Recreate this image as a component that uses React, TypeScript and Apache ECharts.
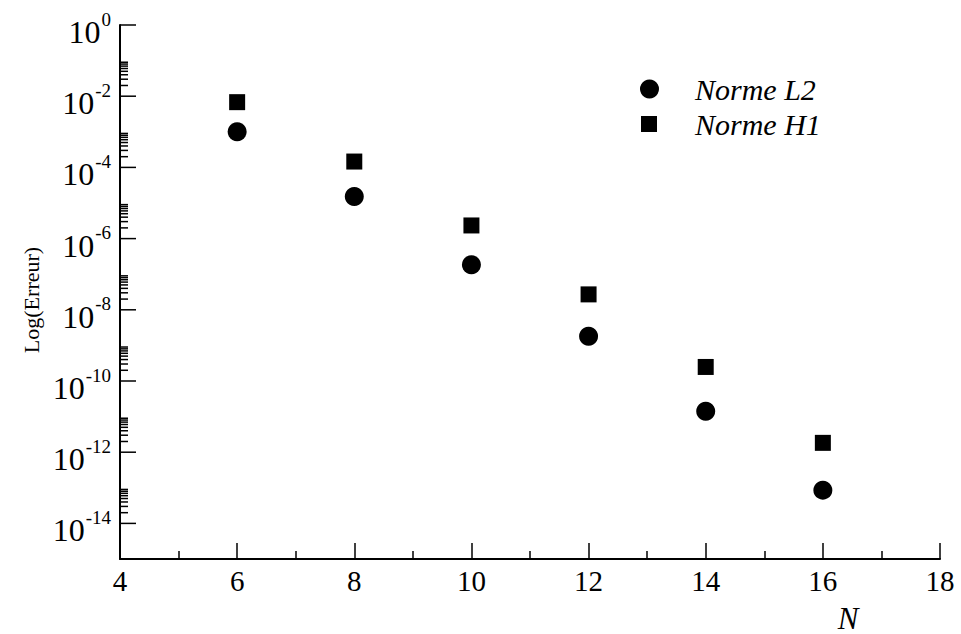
import React, { useEffect, useRef } from "react";
import * as echarts from "echarts";

const nValues = [6, 8, 10, 12, 14, 16];
const normeL2 = [1.0e-3, 1.52e-5, 1.85e-7, 1.8e-9, 1.41e-11, 8.6e-14];
const normeH1 = [6.8e-3, 1.46e-4, 2.34e-6, 2.71e-8, 2.48e-10, 1.83e-12];

const yMajorExponents = [0, -2, -4, -6, -8, -10, -12, -14];
const yMinorMultipliers = [2, 3, 4, 5, 6, 7, 8, 9];
const yMinorDecadeExponents = [-2, -4, -6, -8, -10, -12, -14];

const X_MIN = 4;
const X_MAX = 18;
const Y_MIN = 1e-15;
const Y_MAX = 1;

const FONT = "'Liberation Serif', 'Times New Roman', serif";
const X_LABEL_SIZE = 29;
const BASE_SIZE = 32;
const SUP_SIZE = 19;

let measureCtx: CanvasRenderingContext2D | null = null;
function textWidth(text: string, size: number): number {
  if (!measureCtx) {
    const c = document.createElement("canvas");
    measureCtx = c.getContext("2d");
  }
  if (!measureCtx) return text.length * size * 0.5;
  measureCtx.font = `${size}px ${FONT}`;
  return measureCtx.measureText(text).width;
}

export default function App() {
  const ref = useRef<HTMLDivElement>(null);

  useEffect(() => {
    if (!ref.current) return;
    const chart = echarts.init(ref.current, null, { renderer: "svg" });

    const tickData: number[][] = [];
    yMajorExponents.forEach((e) => tickData.push([X_MIN, Math.pow(10, e), 1]));
    yMinorDecadeExponents.forEach((e) =>
      yMinorMultipliers.forEach((m) => tickData.push([X_MIN, m * Math.pow(10, e), 0]))
    );
    const labelData = yMajorExponents.map((e) => [X_MIN, Math.pow(10, e), e]);

    const legendText = {
      fontFamily: FONT,
      fontStyle: "italic",
      fontSize: 30,
      color: "#000",
      lineHeight: 30,
    };

    const option: any = {
      animation: false,
      backgroundColor: "#fff",
      grid: {
        left: 120,
        right: 21,
        top: 25,
        bottom: 75,
        outerBoundsMode: "none",
        containLabel: false,
      },
      legend: [
        {
          data: [{ name: "Norme L2", icon: "circle" }],
          orient: "vertical",
          left: 640,
          top: 74,
          padding: 0,
          itemWidth: 19,
          itemHeight: 19,
          selectedMode: false,
          textStyle: { ...legendText, padding: [0, 0, 0, 31] },
        },
        {
          data: [{ name: "Norme H1", icon: "rect" }],
          orient: "vertical",
          left: 641,
          top: 109,
          padding: 0,
          itemWidth: 16,
          itemHeight: 16,
          selectedMode: false,
          textStyle: { ...legendText, padding: [0, 0, 0, 33] },
        },
      ],
      xAxis: {
        type: "value",
        min: X_MIN,
        max: X_MAX,
        interval: 2,
        axisLine: { show: true, onZero: false, lineStyle: { color: "#000", width: 2 } },
        axisTick: { show: true, inside: true, length: 16, lineStyle: { color: "#000", width: 1.5 } },
        minorTick: { show: true, splitNumber: 2, length: 8, lineStyle: { color: "#000", width: 1.5 } },
        splitLine: { show: false },
        minorSplitLine: { show: false },
        axisLabel: { fontFamily: FONT, fontSize: X_LABEL_SIZE, color: "#000", margin: 7 },
      },
      yAxis: {
        type: "log",
        logBase: 10,
        min: Y_MIN,
        max: Y_MAX,
        axisLine: { show: true, onZero: false, lineStyle: { color: "#000", width: 2 } },
        axisTick: { show: false },
        axisLabel: { show: false },
        splitLine: { show: false },
      },
      graphic: [
        {
          type: "text",
          x: 848,
          y: 618,
          style: {
            text: "N",
            fontFamily: FONT,
            fontStyle: "italic",
            fontSize: 31,
            fill: "#000",
            align: "center",
            verticalAlign: "middle",
          },
        },
        {
          type: "text",
          x: 31,
          y: 300,
          rotation: Math.PI / 2,
          style: {
            text: "Log(Erreur)",
            fontFamily: FONT,
            fontSize: 22,
            fill: "#000",
            align: "center",
            verticalAlign: "middle",
          },
        },
      ],
      series: [
        {
          name: "Norme L2",
          type: "scatter",
          symbol: "circle",
          symbolSize: 19,
          itemStyle: { color: "#000", opacity: 1 },
          data: nValues.map((n, i) => [n, normeL2[i]]),
          z: 5,
        },
        {
          name: "Norme H1",
          type: "scatter",
          symbol: "rect",
          symbolSize: 16,
          itemStyle: { color: "#000", opacity: 1 },
          data: nValues.map((n, i) => [n, normeH1[i]]),
          z: 5,
        },
        {
          name: "yTicks",
          type: "custom",
          silent: true,
          data: tickData,
          renderItem: (params: any, api: any) => {
            const p = api.coord([api.value(0), api.value(1)]);
            const len = api.value(2) === 1 ? 16 : 8;
            return {
              type: "line",
              shape: { x1: p[0], y1: p[1], x2: p[0] + len, y2: p[1] },
              style: { stroke: "#000", lineWidth: 1.5 },
            };
          },
          z: 3,
        },
        {
          name: "yLabels",
          type: "custom",
          silent: true,
          data: labelData,
          renderItem: (params: any, api: any) => {
            const p = api.coord([api.value(0), api.value(1)]);
            const e = String(api.value(2));
            const right = p[0] - 9;
            const ew = textWidth(e, SUP_SIZE);
            return {
              type: "group",
              children: [
                {
                  type: "text",
                  x: right - ew - 1,
                  y: p[1] + 7,
                  style: {
                    text: "10",
                    fontFamily: FONT,
                    fontSize: BASE_SIZE,
                    fill: "#000",
                    align: "right",
                    verticalAlign: "middle",
                  },
                },
                {
                  type: "text",
                  x: right,
                  y: p[1] - 6,
                  style: {
                    text: e,
                    fontFamily: FONT,
                    fontSize: SUP_SIZE,
                    fill: "#000",
                    align: "right",
                    verticalAlign: "middle",
                  },
                },
              ],
            };
          },
          z: 3,
        },
      ],
    };

    chart.setOption(option);
    return () => chart.dispose();
  }, []);

  return <div ref={ref} style={{ width: 961, height: 634, position: "absolute", left: 0, top: 0 }} />;
}
